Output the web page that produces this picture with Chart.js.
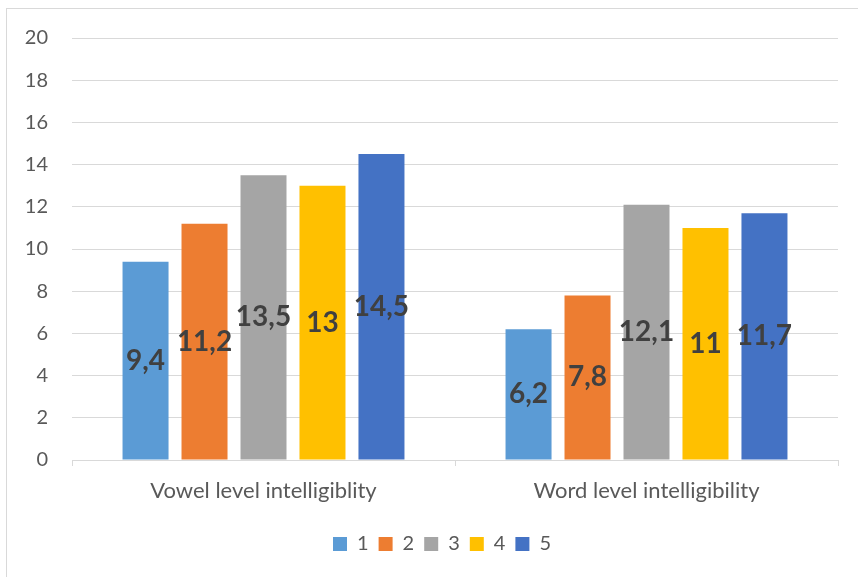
<!DOCTYPE html>
<html>
<head>
<meta charset="utf-8">
<script src="https://cdn.jsdelivr.net/npm/chart.js@4/dist/chart.umd.min.js"></script>
<style>
  html, body { margin: 0; padding: 0; background: #ffffff; }
  #wrap { width: 858px; height: 577px; position: relative; }
</style>
</head>
<body>
<div id="wrap"><canvas id="c" width="858" height="577"></canvas></div>
<script>
// Categories and series values
const categories = ['Vowel level intelligiblity', 'Word level intelligibility'];
const seriesNames = ['1', '2', '3', '4', '5'];
const series1 = [9.4, 6.2];
const series2 = [11.2, 7.8];
const series3 = [13.5, 12.1];
const series4 = [13, 11];
const series5 = [14.5, 11.7];
const yTicks = [0, 2, 4, 6, 8, 10, 12, 14, 16, 18, 20];

const palette = ['#5B9BD5', '#ED7D31', '#A5A5A5', '#FFC000', '#4472C4'];
const allSeries = [series1, series2, series3, series4, series5];

Chart.defaults.font.family = 'Lato, "Open Sans", sans-serif';

// Frame around the chart and white background
const framePlugin = {
  id: 'frame',
  beforeDraw(chart) {
    const ctx = chart.ctx;
    ctx.save();
    ctx.fillStyle = '#ffffff';
    ctx.fillRect(0, 0, chart.width, chart.height);
    ctx.strokeStyle = '#d9d9d9';
    ctx.lineWidth = 1;
    ctx.strokeRect(6.5, 8.5, chart.width + 20, chart.height + 20);
    ctx.restore();
  }
};

// Centre the legend under the plot area rather than the whole canvas
const legendShift = {
  id: 'legendShift',
  afterLayout(chart) {
    const lg = chart.legend;
    if (lg) { lg.left += 23; lg.right += 23; }
  }
};

// Value labels centred inside each bar
const valueLabels = {
  id: 'valueLabels',
  afterDatasetsDraw(chart) {
    const ctx = chart.ctx;
    ctx.save();
    ctx.font = 'bold 28px Lato, "Open Sans", sans-serif';
    ctx.fillStyle = '#404040';
    ctx.textAlign = 'center';
    ctx.textBaseline = 'middle';
    chart.data.datasets.forEach((ds, i) => {
      const meta = chart.getDatasetMeta(i);
      meta.data.forEach((bar, j) => {
        const v = ds.data[j];
        const y = (bar.y + bar.base) / 2;
        ctx.fillText(String(v).replace('.', ','), bar.x, y);
      });
    });
    ctx.restore();
  }
};

new Chart(document.getElementById('c'), {
  type: 'bar',
  data: {
    labels: categories,
    datasets: allSeries.map((d, i) => ({
      label: seriesNames[i],
      data: d,
      backgroundColor: palette[i],
      borderWidth: 0,
      categoryPercentage: 0.77,
      barPercentage: 0.78
    }))
  },
  options: {
    responsive: false,
    animation: false,
    devicePixelRatio: 1,
    layout: { padding: { left: 0, right: 20, top: 38, bottom: 13 } },
    plugins: {
      legend: {
        position: 'bottom',
        labels: {
          boxWidth: 14,
          boxHeight: 14,
          padding: 10,
          color: '#595959',
          font: { size: 20 }
        }
      },
      tooltip: { enabled: false }
    },
    scales: {
      x: {
        grid: {
          display: true,
          drawOnChartArea: false,
          drawTicks: true,
          tickLength: 6,
          color: '#d9d9d9'
        },
        border: { display: true, color: '#d9d9d9', width: 1 },
        ticks: { color: '#595959', font: { size: 22 }, padding: 12 },
        afterFit(scale) { scale.height = 64; }
      },
      y: {
        min: 0,
        max: 20,
        afterBuildTicks(scale) { scale.ticks = yTicks.map(v => ({ value: v })); },
        grid: { color: '#d9d9d9', drawTicks: false },
        border: { display: false },
        ticks: { color: '#595959', font: { size: 20 }, padding: 24 },
        afterFit(scale) { scale.width = 72; }
      }
    }
  },
  plugins: [framePlugin, legendShift, valueLabels]
});
</script>
</body>
</html>
